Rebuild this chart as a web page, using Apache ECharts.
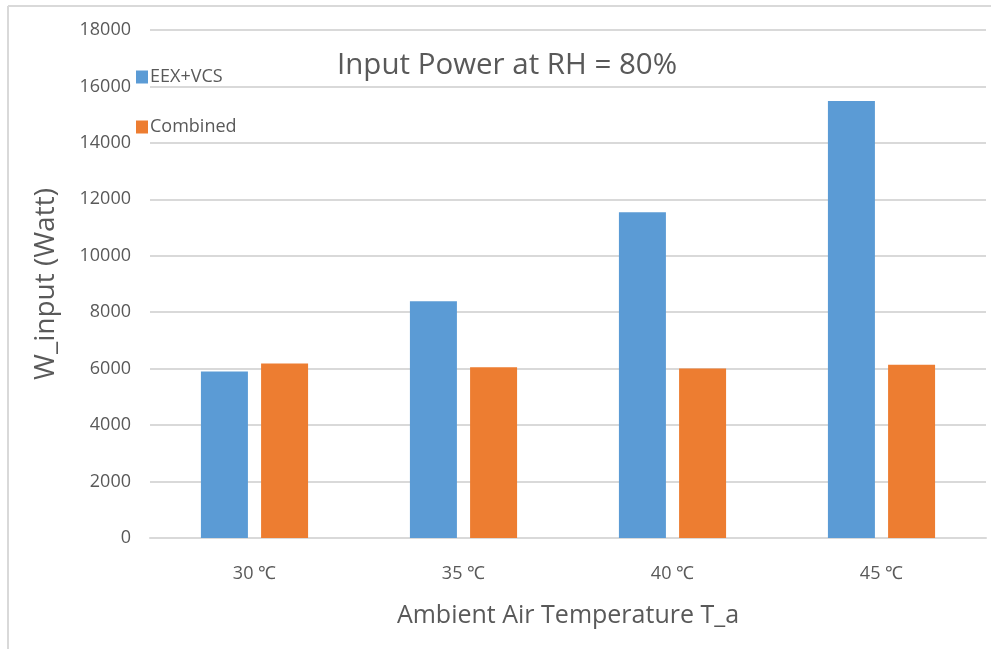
<!DOCTYPE html>
<html>
<head>
<meta charset="utf-8">
<script src="https://cdn.jsdelivr.net/npm/echarts@6/dist/echarts.min.js"></script>
<style>
html,body{margin:0;padding:0;background:#fff;}
#chart{width:991px;height:649px;}
</style>
</head>
<body>
<div id="chart"></div>
<script>
var categories = ['30 ℃', '35 ℃', '40 ℃', '45 ℃'];
var seriesNames = ['EEX+VCS', 'Combined'];
var eexVcs = [5900, 8390, 11540, 15480];
var combined = [6180, 6050, 6010, 6140];
var yTicks = {min: 0, max: 18000, interval: 2000};

var FONT = '"Open Sans", "Liberation Sans", sans-serif';
var TXT = '#595959';
var chart = echarts.init(document.getElementById('chart'), null, {renderer: 'canvas'});
chart.setOption({
  backgroundColor: '#ffffff',
  animation: false,
  title: {
    text: 'Input Power at RH = 80%',
    left: 332, top: 46,
    textStyle: {fontFamily: FONT, fontSize: 29.5, fontWeight: 'normal', color: TXT}
  },
  legend: {
    orient: 'vertical',
    left: 131, top: 63,
    itemWidth: 12, itemHeight: 13, itemGap: 32,
    icon: 'rect',
    data: seriesNames,
    textStyle: {fontFamily: FONT, fontSize: 18, color: TXT, padding: [0,0,0,-3]}
  },
  grid: {left: 150, right: 5, top: 30, bottom: 111, containLabel: false},
  xAxis: {
    type: 'category',
    data: categories,
    axisLine: {lineStyle: {color: '#d9d9d9', width: 2}},
    axisTick: {show: false},
    axisLabel: {fontFamily: FONT, fontSize: 18, color: TXT, margin: 27},
    name: 'Ambient Air Temperature T_a',
    nameLocation: 'middle',
    nameGap: 65,
    nameTextStyle: {fontFamily: FONT, fontSize: 25, color: TXT}
  },
  yAxis: {
    type: 'value',
    min: yTicks.min, max: yTicks.max, interval: yTicks.interval,
    axisLine: {show: false},
    axisTick: {show: false},
    splitLine: {lineStyle: {color: '#d9d9d9', width: 2}},
    axisLabel: {fontFamily: FONT, fontSize: 18, color: TXT, margin: 19,
      formatter: function (v) { return String(v); }},
    name: 'W_input (Watt)',
    nameLocation: 'middle',
    nameGap: 90,
    nameTextStyle: {fontFamily: FONT, fontSize: 28, color: TXT}
  },
  series: [
    {name: seriesNames[0], type: 'bar', data: eexVcs, barWidth: 47, barGap: '28%',
     itemStyle: {color: '#5B9BD5'}},
    {name: seriesNames[1], type: 'bar', data: combined, barWidth: 47, barGap: '28%',
     itemStyle: {color: '#ED7D31'}}
  ],
  graphic: [
    {type: 'line', shape: {x1: 8, y1: 6, x2: 991, y2: 6}, style: {stroke: '#d9d9d9', lineWidth: 2}, silent: true},
    {type: 'line', shape: {x1: 8, y1: 6, x2: 8, y2: 649}, style: {stroke: '#d9d9d9', lineWidth: 2}, silent: true}
  ]
});
</script>
</body>
</html>
